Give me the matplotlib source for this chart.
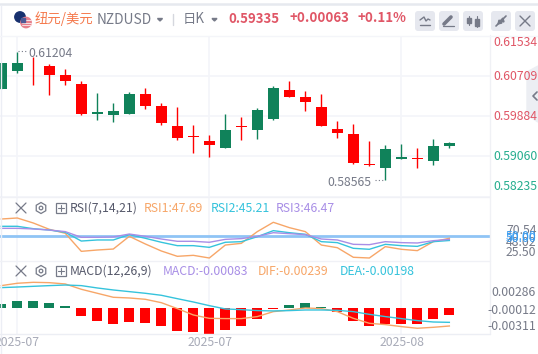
import numpy as np
import matplotlib
matplotlib.use("Agg")
import matplotlib.pyplot as plt
from matplotlib.patches import Circle, FancyBboxPatch, Polygon, Rectangle, RegularPolygon

plt.rcParams['font.family'] = ['Noto Sans CJK SC', 'DejaVu Sans']

# K线数据
opens = [0.60444, 0.60813, 0.60889, 0.60909, 0.60725, 0.60540, 0.59925, 0.59905, 0.59925, 0.60335,
         0.60089, 0.59679, 0.59468, 0.59371, 0.59228, 0.59679, 0.59597, 0.59823, 0.60417, 0.60280,
         0.60069, 0.59618, 0.59515, 0.58894, 0.58818, 0.59003, 0.59017, 0.58962, 0.59272]
closes = [0.60977, 0.60977, 0.60880, 0.60731, 0.60602, 0.59925, 0.59966, 0.59987, 0.60335, 0.60089,
          0.59741, 0.59433, 0.59458, 0.59289, 0.59597, 0.59669, 0.60007, 0.60458, 0.60280, 0.60171,
          0.59679, 0.59536, 0.58920, 0.58884, 0.59207, 0.59044, 0.59007, 0.59269, 0.59335]
highs = [0.60977, 0.61204, 0.61087, 0.60950, 0.60848, 0.60602, 0.60356, 0.60151, 0.60376, 0.60458,
         0.60151, 0.60069, 0.59700, 0.59494, 0.59925, 0.59864, 0.60048, 0.60499, 0.60602, 0.60397,
         0.60335, 0.59782, 0.59720, 0.59371, 0.59289, 0.59310, 0.59228, 0.59413, 0.59351]
lows = [0.60444, 0.60772, 0.60526, 0.60321, 0.60526, 0.59905, 0.59802, 0.59761, 0.59925, 0.60028,
        0.59700, 0.59392, 0.59126, 0.59044, 0.59228, 0.59392, 0.59413, 0.59802, 0.60274, 0.59987,
        0.59679, 0.59433, 0.58900, 0.58859, 0.58565, 0.59003, 0.58818, 0.58880, 0.59228]
price_ticks = [0.61534, 0.60709, 0.59884, 0.59060, 0.58235]

# RSI
rsi1 = [69.4, 70.54, 64.9, 57.8, 53.3, 33.0, 34.5, 35.6, 49.9, 41.3, 33.4, 27.4, 28.5, 25.5, 40.1,
        42.0, 55.2, 65.7, 59.7, 55.2, 40.1, 37.1, 26.3, 25.5, 38.3, 35.3, 33.8, 43.9, 47.69]
rsi2 = [61.2, 61.2, 58.5, 57.0, 54.4, 44.6, 45.8, 45.8, 51.8, 47.7, 43.2, 39.4, 39.4, 37.5, 43.2,
        43.9, 49.5, 56.3, 54.0, 52.2, 43.9, 42.8, 36.4, 35.3, 40.9, 39.4, 38.6, 43.9, 45.21]
rsi3 = [58.9, 58.9, 58.2, 57.0, 55.2, 48.8, 48.8, 49.2, 52.5, 49.9, 46.9, 44.3, 44.3, 43.2, 46.5,
        47.3, 49.9, 54.0, 52.9, 51.8, 46.9, 45.8, 40.9, 40.5, 43.9, 42.8, 42.4, 45.0, 46.47]
rsi_mid = 50.0

# MACD
hist = [0.00042, 0.00077, 0.00077, 0.00057, 0.00019, -0.00092, -0.00153, -0.00188, -0.00165, -0.00176,
        -0.00211, -0.00268, -0.00280, -0.00303, -0.00257, -0.00211, -0.00130, -0.00011, 0.00031, 0.00054,
        0.00012, -0.00046, -0.00153, -0.00211, -0.00188, -0.00188, -0.00188, -0.00130, -0.00083]
dif = [0.00253, 0.00280, 0.00291, 0.00287, 0.00272, 0.00211, 0.00165, 0.00119, 0.00111, 0.00096,
       0.00057, -0.00011, -0.00084, -0.00123, -0.00126, -0.00126, -0.00103, -0.00046, -0.00027, -0.00004,
       -0.00011, -0.00046, -0.00123, -0.00180, -0.00195, -0.00218, -0.00237, -0.00226, -0.00211]
dea = [0.00230, 0.00237, 0.00245, 0.00253, 0.00260, 0.00253, 0.00226, 0.00203, 0.00184, 0.00165,
       0.00142, 0.00103, 0.00065, 0.00023, -0.00015, -0.00023, -0.00034, -0.00038, -0.00034, -0.00027,
       -0.00027, -0.00031, -0.00046, -0.00077, -0.00103, -0.00126, -0.00149, -0.00165, -0.00169]

date_pos = [1, 13, 25]
date_labels = ['2025-07', '2025-07', '2025-08']

W, H = 538, 354
GREEN, RED = '#10825a', '#ff0000'
GRID = '#f4f5f9'
ORANGE, CYAN, PURPLE = '#f7a668', '#35c3dc', '#a88ee6'
GRAY = '#767a88'
x = np.arange(len(opens))

fig = plt.figure(figsize=(W / 100, H / 100), dpi=100, facecolor='white')


def pane(top, bottom):
    a = fig.add_axes([0, 1 - bottom / H, 490 / W, (bottom - top) / H])
    a.set_xlim(-0.08, 30.54)
    a.set_xticks(date_pos)
    a.tick_params(length=0, labelbottom=False, labelleft=False)
    a.grid(axis='x', color=GRID, lw=1.2)
    a.set_axisbelow(True)
    for s in a.spines.values():
        s.set_visible(False)
    return a


# 主图
ax = pane(35.5, 196.5)
ax.set_ylim(price_ticks[-1], price_ticks[0])
ax.set_yticks(price_ticks)
ax.grid(axis='y', color=GRID, lw=1.2)
for i in x:
    up = closes[i] >= opens[i]
    c = GREEN if up else RED
    ax.vlines(i, lows[i], highs[i], color=c, lw=1.0, zorder=3)
    bottom = min(opens[i], closes[i])
    ht = abs(closes[i] - opens[i])
    ax.bar(i, max(ht, 0.0001), bottom=bottom, width=0.68, color=c, zorder=4)

# RSI
ax2 = pane(196.5, 261)
ax2.set_ylim(22.12, 94.75)
ax2.axhline(rsi_mid, color='#8fc4f5', lw=2.0, zorder=2)
ax2.plot(x, rsi1, color=ORANGE, lw=1.0, zorder=3)
ax2.plot(x, rsi2, color=CYAN, lw=1.0, zorder=3)
ax2.plot(x, rsi3, color=PURPLE, lw=1.0, zorder=3)

# MACD
ax3 = pane(261, 334)
ax3.set_ylim(-0.00303, 0.00536)
ax3.bar(x, hist, width=0.64, color=[GREEN if h > 0 else RED for h in hist], zorder=2)
ax3.plot(x, dif, color=ORANGE, lw=1.0, zorder=3)
ax3.plot(x, dea, color=CYAN, lw=1.0, zorder=3)

# 外框，文字，按钮
ov = fig.add_axes([0, 0, 1, 1], facecolor='none', zorder=10)
ov.set_xlim(0, W)
ov.set_ylim(H, 0)
ov.axis('off')


def label(px, py, s, color=GRAY, size=8.8, ha='left', **kw):
    ov.text(px, py, s, color=color, fontsize=size, ha=ha, va='center', **kw)


def line(xs, ys, color='#767a88', lw=1.0, **kw):
    ov.plot(xs, ys, color=color, lw=lw, solid_capstyle='round', **kw)


line([0, W], [4, 4], color='#e6e9ef', lw=1.8)
line([0.5, 0.5], [5, 354], color='#eceef5', lw=1.0)
line([490, 490], [35, 334], color='#f0f1f5', lw=1.0)
for yy, cc in [(35.5, '#f4f5f9'), (196.5, '#f0f1f6'), (260.5, '#f0f1f6'), (334, '#eceef4')]:
    line([0, 490 if yy != 35.5 else W], [yy, yy], color=cc, lw=1.0)

# 国旗
ov.add_patch(Circle((20, 17), 5.2, color='#17306e', zorder=3))
ov.add_patch(Circle((26, 22.5), 5.2, color='#e8808c', zorder=4))
for yy in (20, 22.5, 25):
    line([21.5, 30.5], [yy, yy], color='#f7dfe2', lw=0.7, zorder=5)
ov.add_patch(Rectangle((21, 18), 4, 3.6, color='#4f5a96', zorder=5))

label(35, 18.5, '纽元/美元', color='#f5794c', size=9.6)
label(97, 20, 'NZDUSD', size=9.9)
ov.add_patch(Polygon([[157.5, 18.5], [162.5, 18.5], [160, 21]], color=GRAY))
line([173, 173], [14, 25], color='#d5d7de', lw=1.0)
label(183, 18.5, '日K', size=9.6)
ov.add_patch(Polygon([[212, 18.5], [217, 18.5], [214.5, 21]], color=GRAY))
label(228, 19, '0.59335', color='#e05666', size=9.5, fontweight='bold')
label(289, 18.5, '+0.00063', color='#e05666', size=9.6, fontweight='bold')
label(358, 18.5, '+0.11%', color='#e05666', size=9.6, fontweight='bold')

for bx in (415, 439, 463, 491, 515):
    ov.add_patch(FancyBboxPatch((bx + 2, 13), 16, 16, boxstyle='round,pad=2,rounding_size=3',
                                fc='#e6e8ef', ec='none'))
line([420, 424, 426, 428, 430], [20, 17, 21, 19, 20], lw=1.0)
line([420, 430], [24.5, 24.5], lw=1.0)
line([444, 451], [24, 17], lw=2.6)
line([443, 454], [25.5, 25.5], lw=0.9)
line([469, 469], [16, 25], lw=0.8)
ov.add_patch(Rectangle((467, 17.5), 4, 5, color=GRAY))
line([477, 477], [16, 27], lw=0.8)
ov.add_patch(Rectangle((475, 18.5), 4, 7, color=GRAY))
line([496, 500], [26, 22], lw=1.2)
line([506, 502], [16, 20], lw=1.2)
ov.add_patch(Polygon([[499, 20], [502, 23], [498, 24]], color=GRAY))
ov.add_patch(Polygon([[503, 18], [500, 21], [504, 22]], color=GRAY))
line([520, 530], [16, 26], lw=1.0)
line([530, 520], [16, 26], lw=1.0)

# 价格轴标签
for p, yy in zip(price_ticks, [43, 76, 117, 157, 187]):
    label(493, yy, f'{p:.5f}', color='#e05666' if p > 0.5933 else '#25ad8e')
ov.add_patch(Polygon([[527, 72], [538, 66], [538, 122], [527, 115]], color='#eceef3', zorder=2))
line([537, 533, 537], [92, 96, 100], lw=1.2)

# 最高最低价标记
label(28, 53.5, '0.61204')
line([18, 26], [50.5, 50.5], lw=0.8, ls=(0, (1, 2)))
label(327, 182, '0.58565')
line([375, 385], [180, 180], lw=0.8, ls=(0, (1, 2)))

# RSI 标签
for yy, s, cc in [(230, '70.54', GRAY), (243, '48.02', GRAY), (252, '25.50', GRAY),
                  (237, '50.00', '#3b9cf0'), (238, '50.00', '#3b9cf0')]:
    label(506, yy, s, color=cc)


def tools(yy):
    line([16, 26], [yy - 5, yy + 5], lw=0.9)
    line([26, 16], [yy - 5, yy + 5], lw=0.9)
    ov.add_patch(RegularPolygon((41, yy), 6, radius=5.5, fc='none', ec=GRAY, lw=0.9))
    ov.add_patch(Circle((41, yy), 1.8, fc='none', ec=GRAY, lw=0.9))
    ov.add_patch(Rectangle((55.5, yy - 5), 10, 10, fc='none', ec=GRAY, lw=0.9))
    line([57.5, 63.5], [yy, yy], lw=0.8)
    line([60.5, 60.5], [yy - 3, yy + 3], lw=0.8)


tools(208)
label(70, 208.5, 'RSI(7,14,21)', color='#55586a')
label(144, 208.5, 'RSI1:47.69', color=ORANGE)
label(211, 208.5, 'RSI2:45.21', color=CYAN)
label(276, 208.5, 'RSI3:46.47', color=PURPLE)

tools(271)
label(70, 271.5, 'MACD(12,26,9)', color='#55586a')
label(163, 271.5, 'MACD:-0.00083', color=PURPLE)
label(258, 271.5, 'DIF:-0.00239', color=ORANGE)
label(340, 271.5, 'DEA:-0.00198', color=CYAN)

# MACD 轴标签
label(536, 293, '0.00286', ha='right')
label(536, 310, '-0.00012', ha='right')
label(536, 326, '-0.00311', ha='right')

# 日期
for d, s in zip(date_pos, date_labels):
    label(1.3 + 16.02 * d, 342.5, s, color='#a8abb8', ha='center')

fig.savefig('out.png', dpi=100)
